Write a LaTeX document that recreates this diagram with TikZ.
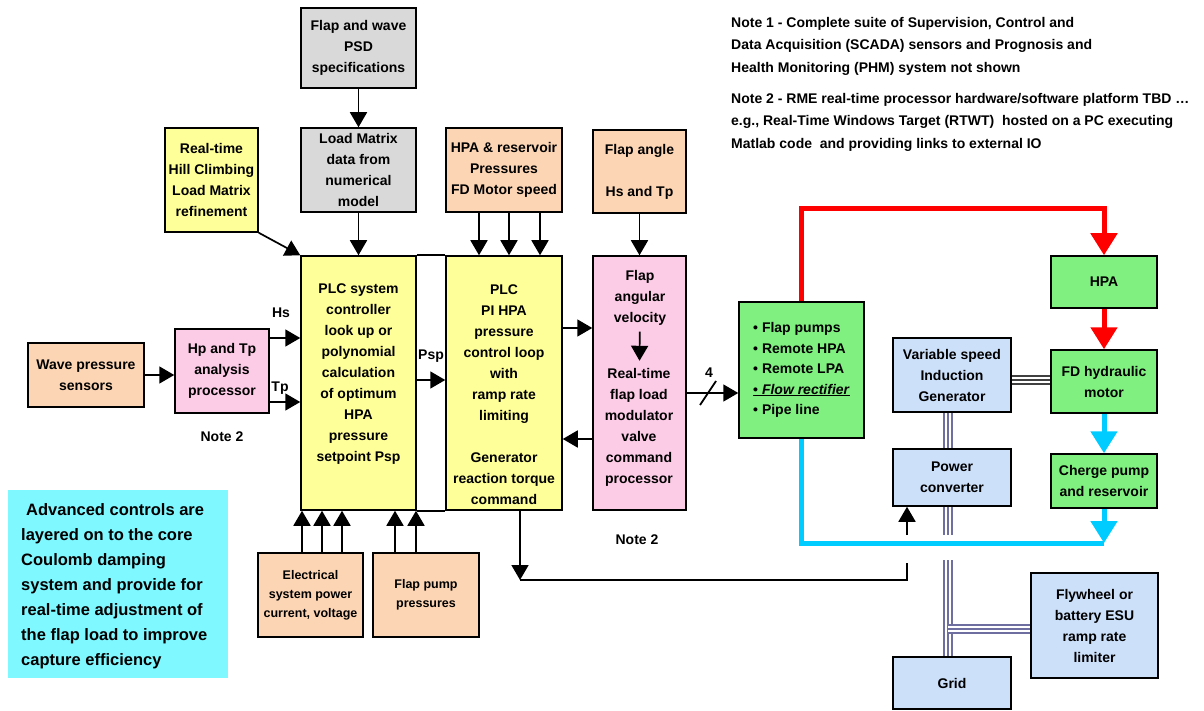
\documentclass[tikz,border=0pt]{standalone}
\usepackage{fontspec}
\setmainfont{Liberation Sans}
\usetikzlibrary{arrows.meta,calc}
\definecolor{peach}{HTML}{FCD5B4}
\definecolor{pink1}{HTML}{FCCBE6}
\definecolor{yell}{HTML}{FFFF99}
\definecolor{gray1}{HTML}{D9D9D9}
\definecolor{green1}{HTML}{80F080}
\definecolor{blue1}{HTML}{CCE0FA}
\definecolor{cyan1}{HTML}{80F8FF}
\definecolor{cyanl}{HTML}{00CCFF}
\definecolor{shaft}{HTML}{6E6EA0}
\definecolor{shaftd}{HTML}{404040}
\begin{document}
\begin{tikzpicture}[x=1pt,y=-1pt,
  box/.style={draw, line width=1.5pt, inner sep=0pt, align=center, font=\bfseries\fontsize{14}{21}\selectfont},
  txt/.style={inner sep=2pt, align=center, font=\bfseries\fontsize{14}{21}\selectfont},
  small/.style={draw, line width=1.5pt, inner sep=0pt, align=center, font=\bfseries\fontsize{12.5}{19}\selectfont},
  lbl/.style={inner sep=0pt, font=\bfseries\fontsize{14}{17}\selectfont},
  note/.style={inner sep=0pt, align=left, font=\bfseries\fontsize{14}{22.5}\selectfont},
  arr/.style={line width=1.7pt, -{Triangle[width=17pt,length=15pt]}},
  plain/.style={line width=1.7pt},
  redarr/.style={draw=red, line width=5pt, -{Triangle[width=26pt,length=22pt]}},
  cyanarr/.style={draw=cyanl, line width=5pt, -{Triangle[width=26pt,length=22pt]}},
  cyanline/.style={draw=cyanl, line width=5pt},
  tri/.style={draw=#1, line width=10pt, postaction={draw=white, line width=5.5pt}, postaction={draw=#1, line width=2.2pt}},
]
\useasboundingbox (0,0) rectangle (1204,711);

% helper coordinates
\coordinate (c479) at (479,0);
\coordinate (c509) at (509,0);
\coordinate (c540) at (540,0);
\coordinate (c302) at (302,0);
\coordinate (c322) at (322,0);
\coordinate (c342) at (342,0);
\coordinate (c395) at (395,0);
\coordinate (c416) at (416,0);
\coordinate (c948) at (948,0);
\coordinate (y338) at (0,338);
\coordinate (y402) at (0,402);
\coordinate (y380) at (0,380);
\coordinate (y328) at (0,328);
\coordinate (y439) at (0,439);
\coordinate (y393) at (0,393);
\coordinate (y209) at (0,209);
\coordinate (y543) at (0,543);
\coordinate (y629) at (0,629);

% boxes
\node[box, fill=gray1, minimum width=115, minimum height=80] (psd) at (358.5,48) {Flap and wave\\PSD\\specifications};
\node[box, fill=gray1, minimum width=115, minimum height=84] (lm) at (358.5,170) {Load Matrix\\data from\\numerical\\model};
\node[box, fill=yell, minimum width=93, minimum height=104] (hill) at (211.5,180) {Real-time\\Hill Climbing\\Load Matrix\\refinement};
\node[box, fill=peach, minimum width=116, minimum height=84] (hpares) at (504,170) {HPA \& reservoir\\Pressures\\FD Motor speed};
\node[box, fill=peach, minimum width=93, minimum height=83] (flapang) at (639.5,171.5) {Flap angle\\[21pt]Hs and Tp};

\node[box, fill=yell, minimum width=115, minimum height=254] (plc1) at (358.5,383) {};
\node[txt] (plc1t) at (358.5,374) {PLC system\\controller\\look up or\\polynomial\\calculation\\of optimum\\HPA\\pressure\\setpoint Psp};
\node[box, fill=yell, minimum width=116, minimum height=254] (plc2) at (504,383) {};
\node[txt] (plc2t) at (504,395) {PLC\\PI HPA\\pressure\\control loop\\with\\ramp rate\\limiting\\[21pt]Generator\\reaction torque\\command};
\draw[line width=1.5pt] (plc1.north east) -- (plc2.north west);
\draw[line width=1.5pt] (plc1.south east) -- (plc2.south west);

\node[box, fill=pink1, minimum width=93, minimum height=254] (pink) at (639.5,383) {};
\node[txt] (pk1) at (640,298) {Flap\\angular\\velocity};
\node[txt] (pk2) at (639,427) {Real-time\\flap load\\modulator\\valve\\command\\processor};

\node[box, fill=peach, minimum width=116, minimum height=64] (wave) at (86,375) {Wave pressure\\sensors};
\node[box, fill=pink1, minimum width=94, minimum height=84] (hp) at (222,371) {Hp and Tp\\analysis\\processor};

\node[box, fill=green1, minimum width=125, minimum height=136, align=left, font=\bfseries\fontsize{14}{20.5}\selectfont] (green) at (801.5,370) {\textbullet\ Flap pumps\\\textbullet\ Remote HPA\\\textbullet\ Remote LPA\\\underline{\textbullet\ \textit{Flow rectifier}}\\\textbullet\ Pipe line};

\node[box, fill=green1, minimum width=106, minimum height=52] (hpa) at (1104,282) {HPA};
\node[box, fill=green1, minimum width=106, minimum height=63] (fdm) at (1104,381.5) {FD hydraulic\\motor};
\node[box, fill=green1, minimum width=106, minimum height=54] (chg) at (1104,481) {Cherge pump\\and reservoir};

\node[box, fill=blue1, minimum width=118, minimum height=74] (vsig) at (952,375) {Variable speed\\Induction\\Generator};
\node[box, fill=blue1, minimum width=118, minimum height=57] (pconv) at (952,477.5) {Power\\converter};
\node[box, fill=blue1, minimum width=118, minimum height=52] (grid) at (952,683) {Grid};
\node[box, fill=blue1, minimum width=127, minimum height=105] (fly) at (1094.5,625.5) {Flywheel or\\battery ESU\\ramp rate\\limiter};

\node[small, fill=peach, minimum width=105, minimum height=84] (elec) at (310.5,595) {Electrical\\system power\\current, voltage};
\node[small, fill=peach, minimum width=106, minimum height=84] (fpp) at (426,595) {Flap pump\\pressures};

\node[fill=cyan1, minimum width=220, minimum height=188, inner sep=0pt] (adv) at (118,584) {};
\node[inner sep=0pt, anchor=west, align=left, font=\bfseries\fontsize{16.5}{25}\selectfont] (advt) at (21,586) {\hspace{5pt}Advanced controls are\\layered on to the core\\Coulomb damping\\system and provide for\\real-time adjustment of\\the flap load to improve\\capture efficiency};

% notes
\node[note, anchor=north west] (note1) at (731,17) {Note 1 - Complete suite of Supervision, Control and\\Data Acquisition (SCADA) sensors and Prognosis and\\Health Monitoring (PHM) system not shown};
\node[note, anchor=north west] (note2) at (731,93) {Note 2 - RME real-time processor hardware/software platform TBD \dots\\e.g., Real-Time Windows Target (RTWT)\ \ hosted on a PC executing\\Matlab code\ \ and providing links to external IO};

% labels
\node[lbl] (hs) at (281,313) {Hs};
\node[lbl] (tp) at (280,388) {Tp};
\node[lbl] (psp) at (431,356) {Psp};
\node[lbl] (four) at (709,373) {4};
\node[lbl] (n2a) at (222,437) {Note 2};
\node[lbl] (n2b) at (637,540) {Note 2};

% connectors
\draw[arr] (psd) -- (lm);
\draw[arr] (lm) -- (plc1);
\draw[arr] (hill.south east) -- (plc1.north west);
\draw[arr] (hpares.south -| c479) -- (plc2.north -| c479);
\draw[arr] (hpares.south -| c509) -- (plc2.north -| c509);
\draw[arr] (hpares.south -| c540) -- (plc2.north -| c540);
\draw[arr] (flapang) -- (pink);
\draw[arr] (wave.east) -- (wave.east -| hp.west);
\draw[arr] (hp.east |- y338) -- (plc1.west |- y338);
\draw[arr] (hp.east |- y402) -- (plc1.west |- y402);
\draw[arr] (plc1.east |- y380) -- (plc2.west |- y380);
\draw[arr] (plc2.east |- y328) -- (pink.west |- y328);
\draw[arr] (pink.west |- y439) -- (plc2.east |- y439);
\draw[arr, shorten <=4pt, shorten >=5pt] (pk1) -- (pk2);
\draw[arr] (pink.east |- y393) -- (green.west |- y393);
\draw[line width=1.8pt] (700,405) -- (716,381);

\draw[arr] (elec.north -| c302) -- (plc1.south -| c302);
\draw[arr] (elec.north -| c322) -- (plc1.south -| c322);
\draw[arr] (elec.north -| c342) -- (plc1.south -| c342);
\draw[arr] (fpp.north -| c395) -- (plc1.south -| c395);
\draw[arr] (fpp.north -| c416) -- (plc1.south -| c416);

\coordinate (bend1) at (520,580);
\coordinate (bend2) at (907,580);
\coordinate (gapA) at (907,563);
\coordinate (gapB) at (907,535);
\draw[arr] (plc2.south -| bend1) -- (bend1);
\draw[plain] (bend1) -- (bend2) -- (gapA);
\draw[arr] (gapB) -- (pconv.south -| gapB);

% hydraulic
\draw[redarr] (green.north) -- (green.north |- y209) -| (hpa.north);
\draw[redarr] (hpa) -- (fdm);
\draw[cyanarr] (fdm) -- (chg);
\draw[cyanarr] (chg.south) -- (chg.south |- y543);
\draw[cyanline] (chg.south |- y543) -| (green.south);

% shafts and electrical lines
\draw[tri=shaftd] (vsig.east |- y380) -- (fdm.west |- y380);
\draw[tri=shaft] (vsig.south -| c948) -- (pconv.north -| c948);
\coordinate (sA) at (948,535);
\coordinate (sB) at (948,560);
\draw[tri=shaft] (pconv.south -| c948) -- (sA);
\draw[tri=shaft] (sB) -- (grid.north -| c948);
\draw[tri=shaft] (c948 |- y629) -- (fly.west |- y629);
\end{tikzpicture}
\end{document}
